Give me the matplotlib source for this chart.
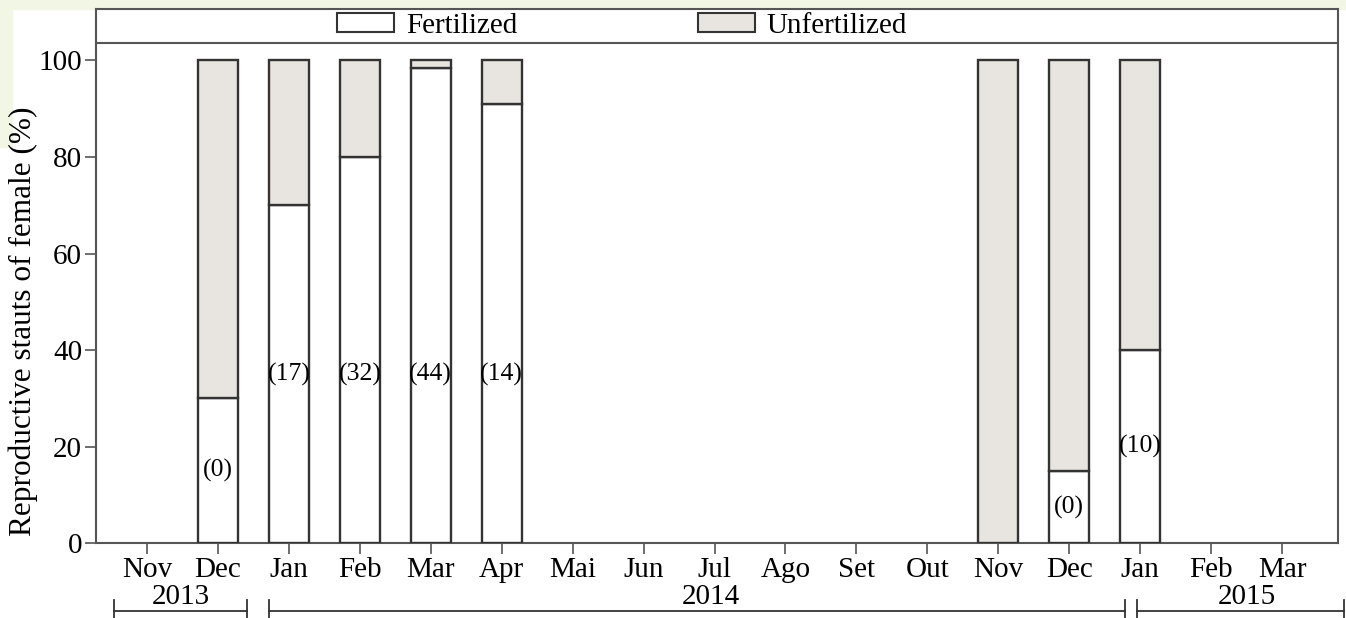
import matplotlib
matplotlib.use("Agg")
import matplotlib.pyplot as plt
from matplotlib.patches import Patch, Rectangle
import matplotlib.transforms as mtrans

months = ["Nov", "Dec", "Jan", "Feb", "Mar", "Apr", "Mai", "Jun", "Jul",
          "Ago", "Set", "Out", "Nov", "Dec", "Jan", "Feb", "Mar"]
fertilized =   [None, 30, 70, 80, 98.5, 91, None, None, None, None, None, None, 0, 15, 40, None, None]
unfertilized = [None, 70, 30, 20, 1.5, 9, None, None, None, None, None, None, 100, 85, 60, None, None]
n_labels = [None, "(0)", "(17)", "(32)", "(44)", "(14)", None, None, None, None, None, None,
            None, "(0)", "(10)", None, None]
n_label_y = [None, 15, 35, 35, 35, 35, None, None, None, None, None, None,
             None, 7.5, 20, None, None]
years = ["2013", "2014", "2015"]
year_label_x = [0.48, 7.95, 15.5]
year_spans = [(-0.47, 1.41), (1.72, 13.79), (13.96, 16.88)]

plt.rcParams['font.family'] = ['Liberation Serif', 'DejaVu Serif']
FS = 21
EDGE = "#333333"
GRAY = "#E8E4E0"
SPINE = "#555555"

fig = plt.figure(figsize=(13.46, 6.18), dpi=100)
# screenshot tint
fig.patches.append(Rectangle((0, 1 - 9 / 618), 1, 9 / 618, transform=fig.transFigure,
                             color="#F2F7E5", zorder=-10))
fig.patches.append(Rectangle((0, 1 - 147 / 618), 12 / 1346, 147 / 618, transform=fig.transFigure,
                             color="#F2F7E5", zorder=-10))

ax = fig.add_axes([96 / 1346, 1 - 543.3 / 618, (1338 - 96) / 1346, (543.3 - 9.3) / 618])

x = list(range(len(months)))
w = 0.56
for i in x:
    f = fertilized[i]
    u = unfertilized[i]
    if f is None:
        continue
    if f > 0:
        ax.bar(i, f, width=w, color="white", edgecolor=EDGE, linewidth=1.7, zorder=3)
    if u > 0:
        ax.bar(i, u, bottom=f, width=w, color=GRAY, edgecolor=EDGE, linewidth=1.7, zorder=3)
    if n_labels[i]:
        ax.text(i, n_label_y[i], n_labels[i], ha="center", va="center", fontsize=FS - 2.5, zorder=4)

ax.set_xlim(-0.72, 16.79)
ax.set_ylim(0, 110.6)
ax.axhline(103.7, color=SPINE, linewidth=1.5, zorder=2)

ax.set_xticks(x)
ax.set_xticklabels(months, fontsize=FS)
ax.set_yticks([0, 20, 40, 60, 80, 100])
ax.set_yticklabels(["0", "20", "40", "60", "80", "100"], fontsize=FS)
ax.tick_params(axis="x", length=8, width=1.2, color=SPINE, pad=2)
ax.tick_params(axis="y", length=8, width=1.2, color=SPINE, pad=2)
for s in ax.spines.values():
    s.set_color(SPINE)
    s.set_linewidth(1.5)

ax.set_ylabel("Reproductive stauts of female (%)", fontsize=22.5, labelpad=1)
ax.yaxis.set_label_coords(-0.047, 0.416)

handles = [Patch(facecolor="white", edgecolor=EDGE, linewidth=1.5, label="Fertilized"),
           Patch(facecolor=GRAY, edgecolor=EDGE, linewidth=1.5, label="Unfertilized")]
ax.legend(handles=handles, loc="center", bbox_to_anchor=(0.4235, 0.9687), ncol=2,
          frameon=False, fontsize=FS, handlelength=1.95, handleheight=0.6,
          handletextpad=0.4, columnspacing=6.2, borderpad=0, borderaxespad=0)

trans = mtrans.blended_transform_factory(ax.transData, ax.transAxes)
for yr, lx, (a, b) in zip(years, year_label_x, year_spans):
    ax.text(lx, -0.10, yr, transform=trans, ha="center", va="center", fontsize=FS, clip_on=False)
    ax.plot([a, b], [-0.126, -0.126], transform=trans, color="#333333", linewidth=1.3, clip_on=False)
    for e in (a, b):
        ax.plot([e, e], [-0.106, -0.16], transform=trans, color="#333333", linewidth=1.3, clip_on=False)

fig.savefig("out.png", dpi=100)
